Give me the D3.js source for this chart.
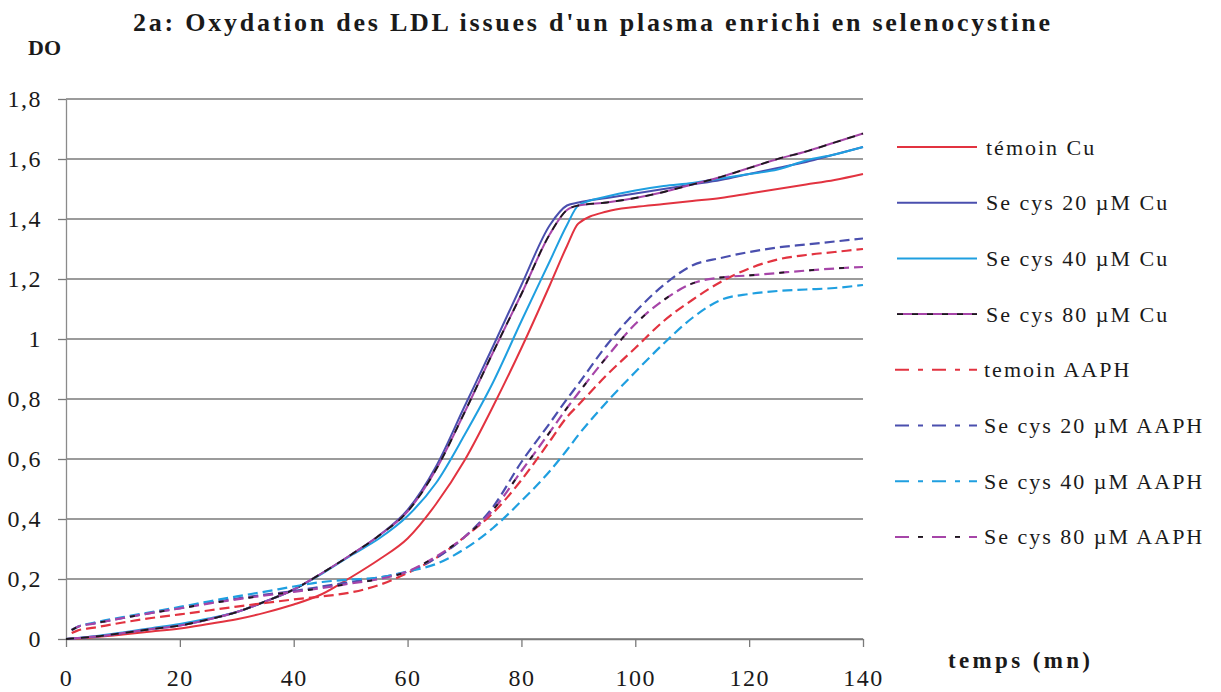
<!DOCTYPE html>
<html>
<head>
<meta charset="utf-8">
<script src="https://cdn.jsdelivr.net/npm/d3@7"></script>
<style>
  html, body { margin: 0; padding: 0; background: #ffffff; }
  svg { display: block; }
  text { font-family: "Liberation Serif", "Times New Roman", Times, serif; fill: #1a1a1a; }
</style>
</head>
<body>
<svg id="chart" width="1221" height="692"></svg>
<script>
// ---------------- DATA ----------------
const title = "2a: Oxydation des LDL issues d'un plasma enrichi en selenocystine";
const yTitle = "DO";
const xTitle = "temps (mn)";

const xTicks = [0, 20, 40, 60, 80, 100, 120, 140];
const yTicks = [0, 0.2, 0.4, 0.6, 0.8, 1.0, 1.2, 1.4, 1.6, 1.8];

const seriesNames = [
  "témoin Cu", "Se cys 20 µM Cu", "Se cys 40 µM Cu", "Se cys 80 µM Cu",
  "temoin AAPH", "Se cys 20 µM AAPH", "Se cys 40 µM AAPH", "Se cys 80 µM AAPH"
];

// time (min) for Cu series
const timeCu = [0, 2, 5, 10, 15, 20, 25, 30, 35, 40, 45, 50, 55, 60, 65, 70, 75, 80, 85, 88, 90, 95, 100, 105, 110, 115, 120, 125, 130, 135, 140];
const temoinCu = [0, 0.002, 0.006, 0.015, 0.025, 0.035, 0.05, 0.066, 0.088, 0.115, 0.15, 0.205, 0.265, 0.335, 0.45, 0.595, 0.775, 0.97, 1.18, 1.31, 1.385, 1.425, 1.44, 1.45, 1.46, 1.47, 1.485, 1.5, 1.515, 1.53, 1.55];
const secys20Cu = [0, 0.003, 0.008, 0.02, 0.033, 0.045, 0.065, 0.09, 0.125, 0.165, 0.22, 0.28, 0.345, 0.43, 0.575, 0.775, 0.975, 1.18, 1.38, 1.445, 1.455, 1.47, 1.485, 1.5, 1.515, 1.53, 1.55, 1.57, 1.59, 1.615, 1.64];
const secys40Cu = [0, 0.003, 0.009, 0.022, 0.036, 0.05, 0.068, 0.09, 0.125, 0.165, 0.218, 0.278, 0.335, 0.41, 0.52, 0.68, 0.855, 1.06, 1.26, 1.38, 1.445, 1.475, 1.495, 1.51, 1.52, 1.535, 1.55, 1.565, 1.595, 1.615, 1.64];
const secys80Cu = [0, 0.003, 0.008, 0.02, 0.033, 0.045, 0.065, 0.09, 0.125, 0.165, 0.22, 0.28, 0.345, 0.425, 0.565, 0.755, 0.955, 1.15, 1.35, 1.43, 1.445, 1.455, 1.47, 1.49, 1.515, 1.54, 1.57, 1.6, 1.625, 1.655, 1.685];

// time (min) for AAPH series
const timeAAPH = [1, 2, 5, 10, 15, 20, 25, 30, 35, 40, 45, 50, 55, 60, 65, 70, 75, 80, 85, 88, 90, 95, 100, 105, 110, 115, 120, 125, 130, 135, 140];
const temoinAAPH = [0.02, 0.028, 0.038, 0.055, 0.07, 0.082, 0.095, 0.108, 0.12, 0.132, 0.142, 0.155, 0.18, 0.22, 0.27, 0.34, 0.42, 0.53, 0.66, 0.74, 0.78, 0.88, 0.97, 1.06, 1.13, 1.19, 1.235, 1.265, 1.28, 1.29, 1.30];
const secys20AAPH = [0.03, 0.04, 0.052, 0.07, 0.087, 0.103, 0.12, 0.135, 0.148, 0.16, 0.175, 0.19, 0.205, 0.225, 0.27, 0.34, 0.44, 0.59, 0.72, 0.8, 0.85, 0.98, 1.09, 1.18, 1.245, 1.27, 1.29, 1.305, 1.315, 1.325, 1.335];
const secys40AAPH = [0.03, 0.04, 0.055, 0.073, 0.09, 0.107, 0.125, 0.142, 0.158, 0.175, 0.19, 0.198, 0.205, 0.225, 0.25, 0.3, 0.37, 0.46, 0.56, 0.63, 0.68, 0.79, 0.89, 0.985, 1.07, 1.13, 1.15, 1.16, 1.165, 1.17, 1.18];
const secys80AAPH = [0.03, 0.04, 0.052, 0.07, 0.087, 0.102, 0.118, 0.132, 0.145, 0.157, 0.17, 0.185, 0.2, 0.225, 0.275, 0.34, 0.43, 0.56, 0.69, 0.77, 0.82, 0.94, 1.05, 1.13, 1.185, 1.205, 1.212, 1.22, 1.228, 1.235, 1.24];

// ---------------- STYLE ----------------
const SERIF = '"Liberation Serif", "Times New Roman", Times, serif';
const red = "#e23340", indigo = "#4a4fae", sky = "#1f9fe0", purple = "#a645a8";
const AAPH_DASH = "10,5";
const LEGEND_DASH = "14,9,5,9";

const series = [
  { name: seriesNames[0], t: timeCu, v: temoinCu, color: red, dash: null },
  { name: seriesNames[1], t: timeCu, v: secys20Cu, color: indigo, dash: null },
  { name: seriesNames[2], t: timeCu, v: secys40Cu, color: sky, dash: null },
  { name: seriesNames[3], t: timeCu, v: secys80Cu, color: purple, dash: null, overlay: "8,7" },
  { name: seriesNames[4], t: timeAAPH, v: temoinAAPH, color: red, dash: AAPH_DASH },
  { name: seriesNames[5], t: timeAAPH, v: secys20AAPH, color: indigo, dash: AAPH_DASH },
  { name: seriesNames[6], t: timeAAPH, v: secys40AAPH, color: sky, dash: AAPH_DASH },
  { name: seriesNames[7], t: timeAAPH, v: secys80AAPH, color: purple, dash: AAPH_DASH, overlay: "5,25" }
];

// ---------------- LAYOUT ----------------
const svg = d3.select("#chart");
const plot = { left: 66, right: 863, top: 99, bottom: 639 };

const x = d3.scaleLinear().domain([0, 140]).range([plot.left, plot.right]);
const y = d3.scaleLinear().domain([0, 1.8]).range([plot.bottom, plot.top]);

const fr = d3.formatLocale({ decimal: ",", thousands: " ", grouping: [3], currency: ["", ""] });
const fmt = fr.format(".1~f");

// gridlines
svg.append("g")
  .selectAll("line")
  .data(yTicks)
  .join("line")
  .attr("x1", plot.left)
  .attr("x2", plot.right)
  .attr("y1", d => y(d))
  .attr("y2", d => y(d))
  .attr("stroke", "#7a7a7a")
  .attr("stroke-width", 1.3);

// y axis
const yAxis = svg.append("g")
  .attr("transform", `translate(${plot.left},0)`)
  .call(d3.axisLeft(y).tickValues(yTicks).tickFormat(fmt).tickSize(8).tickPadding(16).tickSizeOuter(0));
yAxis.attr("font-family", null);
yAxis.select(".domain").attr("stroke", "#8a8a8a").attr("stroke-width", 1.3);
yAxis.selectAll(".tick line").attr("stroke", "#7a7a7a").attr("stroke-width", 1.3);
yAxis.selectAll(".tick text")
  .style("font-family", SERIF)
  .style("font-size", "24px")
  .style("letter-spacing", "1.5px")
  .attr("fill", "#1a1a1a");

// x axis
const xAxis = svg.append("g")
  .attr("transform", `translate(0,${plot.bottom})`)
  .call(d3.axisBottom(x).tickValues(xTicks).tickFormat(d3.format("d")).tickSize(8).tickPadding(22).tickSizeOuter(0));
xAxis.attr("font-family", null);
xAxis.select(".domain").attr("stroke", "#7a7a7a").attr("stroke-width", 1.3);
xAxis.selectAll(".tick line").attr("stroke", "#7a7a7a").attr("stroke-width", 1.3);
xAxis.selectAll(".tick text")
  .style("font-family", SERIF)
  .style("font-size", "24px")
  .style("letter-spacing", "1.5px")
  .attr("fill", "#1a1a1a");

// lines
const line = d3.line().x(d => x(d[0])).y(d => y(d[1])).curve(d3.curveMonotoneX);
const gLines = svg.append("g");
series.forEach(s => {
  const pts = s.t.map((t, i) => [t, s.v[i]]);
  gLines.append("path")
    .datum(pts)
    .attr("d", line)
    .attr("fill", "none")
    .attr("stroke", s.color)
    .attr("stroke-width", s.dash ? 2.2 : 2)
    .attr("stroke-dasharray", s.dash)
    .attr("stroke-linejoin", "round");
  if (s.overlay) {
    gLines.append("path")
      .datum(pts)
      .attr("d", line)
      .attr("fill", "none")
      .attr("stroke", "#1b1b1b")
      .attr("stroke-width", 1.8)
      .attr("stroke-dasharray", s.overlay);
  }
});

// title
svg.append("text")
  .attr("x", 133).attr("y", 31)
  .style("font-family", SERIF)
  .style("font-size", "26px")
  .style("font-weight", "bold")
  .attr("textLength", 917)
  .attr("lengthAdjust", "spacing")
  .text(title);

svg.append("text")
  .attr("x", 28).attr("y", 55)
  .style("font-family", SERIF)
  .style("font-size", "22px")
  .style("font-weight", "bold")
  .attr("textLength", 33)
  .attr("lengthAdjust", "spacing")
  .text(yTitle);

svg.append("text")
  .attr("x", 948).attr("y", 668)
  .style("font-family", SERIF)
  .style("font-size", "23px")
  .style("font-weight", "bold")
  .attr("textLength", 142)
  .attr("lengthAdjust", "spacing")
  .text(xTitle);

// legend
const legY0 = 147, legStep = 55.7;
const leg = svg.append("g");
series.forEach((s, i) => {
  const yy = legY0 + i * legStep;
  leg.append("line")
    .attr("x1", s.dash ? 895 : 897).attr("x2", 977)
    .attr("y1", yy).attr("y2", yy)
    .attr("stroke", s.color)
    .attr("stroke-width", 2)
    .attr("stroke-dasharray", s.dash ? LEGEND_DASH : null);
  if (s.overlay) {
    leg.append("line")
      .attr("x1", s.dash ? 895 : 897).attr("x2", 977)
      .attr("y1", yy).attr("y2", yy)
      .attr("stroke", "#1b1b1b")
      .attr("stroke-width", 1.6)
      .attr("stroke-dasharray", s.dash ? "0,23,5,9" : "6,9");
  }
  leg.append("text")
    .attr("x", s.dash ? 984 : 986)
    .attr("y", yy + 7.5)
    .style("font-family", SERIF)
    .style("font-size", "22px")
    .style("letter-spacing", "2px")
    .text(s.name);
});
</script>
</body>
</html>
